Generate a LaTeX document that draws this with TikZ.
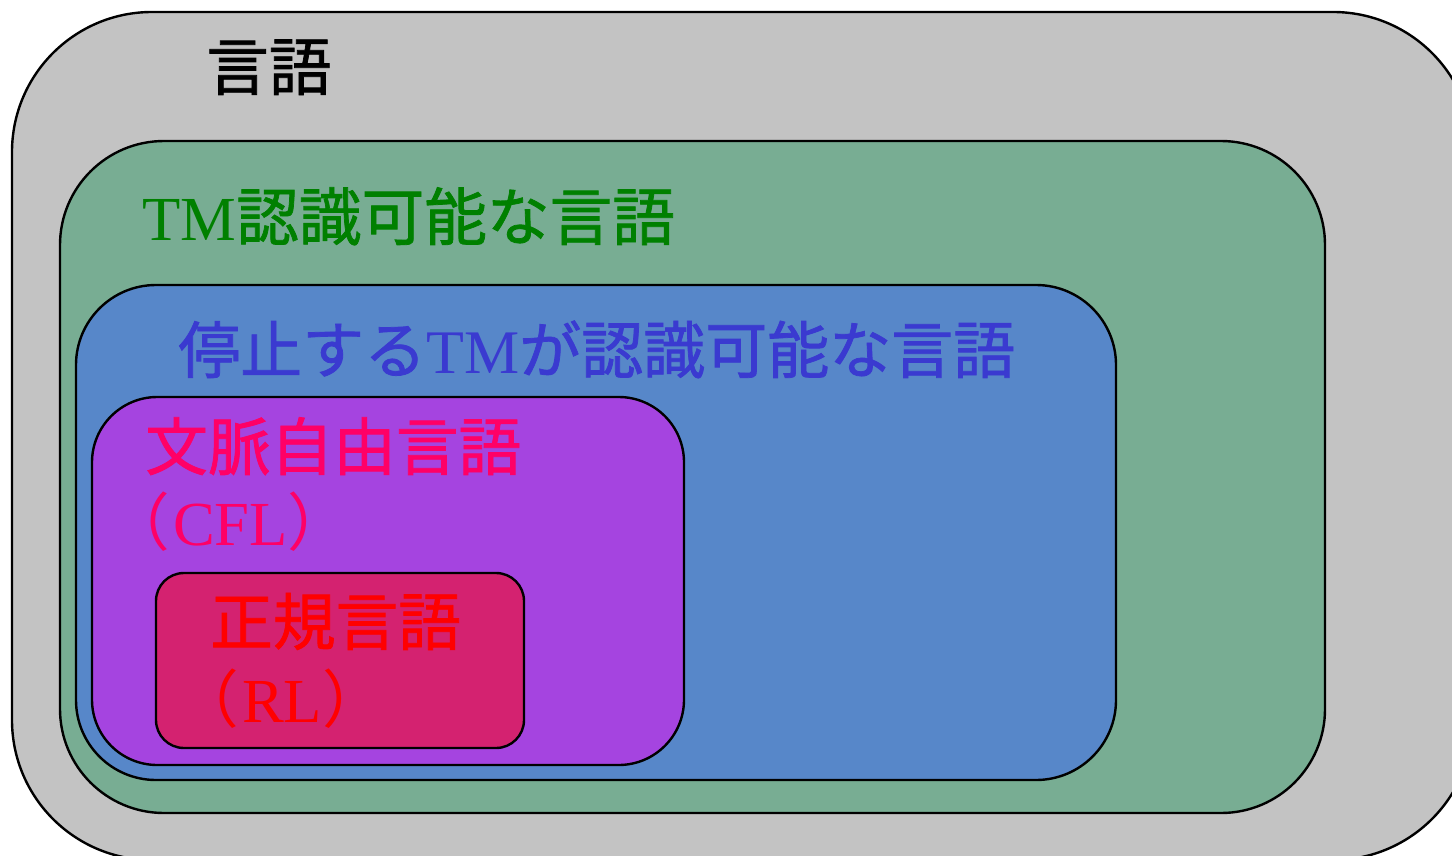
\documentclass[tikz,border=0pt]{standalone}
\usepackage{fontspec}
\setmainfont{Liberation Serif}
\newfontfamily\jp[FakeBold=1.2]{Noto Sans CJK JP}
\newfontfamily\jpp{Noto Sans CJK JP}
\definecolor{cgray}{HTML}{C3C3C3}
\definecolor{cgreen}{HTML}{78AD93}
\definecolor{cblue}{HTML}{5787C9}
\definecolor{cpurple}{HTML}{A544E0}
\definecolor{cred}{HTML}{D42270}
\definecolor{tgreen}{HTML}{008000}
\definecolor{tblue}{HTML}{3A3AD0}
\definecolor{tpink}{HTML}{FF0066}
\definecolor{tred}{HTML}{FF0000}
\newcommand{\lp}{{\jpp （}\kern0.05em}
\newcommand{\rp}{{\jpp ）}}
\begin{document}
\begin{tikzpicture}[x=0.75pt,y=-0.75pt,
  setbox/.style={draw=black,line width=1.8pt},
  lbl/.style={anchor=base west,inner sep=0pt,font=\fontsize{47pt}{50pt}\selectfont}]
\useasboundingbox (0,0) rectangle (1452,856);
\clip (0,0) rectangle (1452,856);
\fill[white] (0,0) rectangle (1452,856);
\draw[setbox,fill=cgray,rounded corners=105pt] (12,12) rectangle (1473,860);
\draw[setbox,fill=cgreen,rounded corners=78pt] (60,141) rectangle (1325,813);
\draw[setbox,fill=cblue,rounded corners=60pt] (76,285) rectangle (1116,780);
\draw[setbox,fill=cpurple,rounded corners=49pt] (92,397) rectangle (684,765);
\draw[setbox,fill=cred,rounded corners=21pt] (156,573) rectangle (524,748);
\node[lbl,text=black] (lang) at (206,90) {\jp 言語};
\node[lbl,text=tgreen] (tm) at (142,240) {TM{\jp 認識可能な言語}};
\node[lbl,text=tblue,font=\fontsize{46.5pt}{50pt}\selectfont] (halt) at (178,373) {{\jp 停止する}TM{\jp が認識可能な言語}};
\node[lbl,text=tpink] (cfl) at (145,470) {\jp 文脈自由言語};
\node[lbl,text=tpink] (cfl2) at (107,545) {\lp CFL\rp};
\node[lbl,text=tred] (rl) at (210,645) {\jp 正規言語};
\node[lbl,text=tred] (rl2) at (176,722) {\lp RL\rp};
\end{tikzpicture}
\end{document}
